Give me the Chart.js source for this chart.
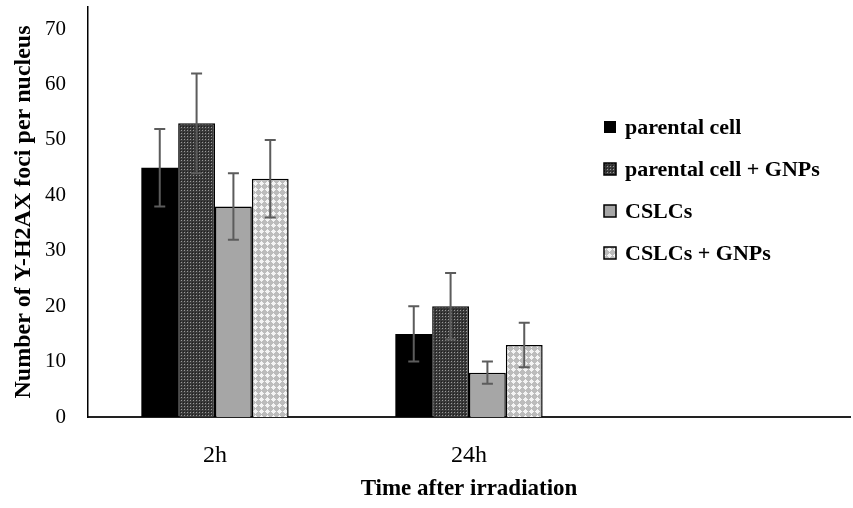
<!DOCTYPE html>
<html>
<head>
<meta charset="utf-8">
<script src="https://cdn.jsdelivr.net/npm/chart.js@4/dist/chart.umd.min.js"></script>
<style>
html,body{margin:0;padding:0;background:#fff;}
canvas{display:block;}
</style>
</head>
<body>
<canvas id="c" width="853" height="508"></canvas>
<script>
// ---- data ----
const categories = ['2h', '24h', ''];
const seriesNames = ['parental cell', 'parental cell + GNPs', 'CSLCs', 'CSLCs + GNPs'];
const parentalCell = [45, 15, null];
const parentalCellGNPs = [53, 20, null];
const cslcs = [38, 8, null];
const cslcsGNPs = [43, 13, null];
const parentalCellErr = [7, 5, null];
const parentalCellGNPsErr = [9, 6, null];
const cslcsErr = [6, 2, null];
const cslcsGNPsErr = [7, 4, null];
const yTicks = [0, 10, 20, 30, 40, 50, 60, 70];
const xTitle = 'Time after irradiation';
const yTitle = 'Number of Y-H2AX foci per nucleus';

// ---- patterns ----
function makePattern(size, draw) {
  const c = document.createElement('canvas');
  c.width = size; c.height = size;
  const g = c.getContext('2d');
  draw(g);
  return g.createPattern(c, 'repeat');
}
const ctx = document.getElementById('c').getContext('2d');
const darkCheck = makePattern(3, g => {
  g.fillStyle = '#3a3a3a'; g.fillRect(0, 0, 3, 3);
  g.fillStyle = '#9a9a9a'; g.fillRect(1, 1, 1, 1);
  g.fillStyle = '#1e1e1e'; g.fillRect(0, 0, 1, 1);
});
const lightDiamond = makePattern(6, g => {
  g.fillStyle = '#bcbcbc'; g.fillRect(0, 0, 6, 6);
  g.fillStyle = '#f4f4f4';
  [[3,1],[2,2],[3,2],[4,2],[1,3],[2,3],[3,3],[4,3],[5,3],[2,4],[3,4],[4,4],[3,5]]
    .forEach(p => g.fillRect(p[0], p[1], 1, 1));
});

const errors = [parentalCellErr, parentalCellGNPsErr, cslcsErr, cslcsGNPsErr];
const SERIF = '"Liberation Serif", "Times New Roman", serif';

const errorBarPlugin = {
  id: 'errorBars',
  afterDatasetsDraw(chart) {
    const c = chart.ctx;
    const ys = chart.scales.y;
    chart.data.datasets.forEach((ds, i) => {
      const meta = chart.getDatasetMeta(i);
      meta.data.forEach((bar, j) => {
        const v = ds.data[j], e = errors[i][j];
        if (v == null || e == null) return;
        const top = ys.getPixelForValue(v + e);
        const bot = ys.getPixelForValue(v - e);
        c.save();
        c.strokeStyle = '#5c5c5c';
        c.lineWidth = 2;
        c.beginPath();
        c.moveTo(bar.x, top); c.lineTo(bar.x, bot);
        c.moveTo(bar.x - 5.5, top); c.lineTo(bar.x + 5.5, top);
        c.moveTo(bar.x - 5.5, bot); c.lineTo(bar.x + 5.5, bot);
        c.stroke();
        c.restore();
      });
    });
  }
};

const legendPlugin = {
  id: 'customLegend',
  afterDraw(chart) {
    const c = chart.ctx;
    const rowsY = [127, 169, 211, 253];
    c.save();
    chart.data.datasets.forEach((ds, i) => {
      const y = rowsY[i];
      c.fillStyle = ds.backgroundColor;
      c.fillRect(604, y - 6, 12, 12);
      if (ds.borderWidth) {
        c.strokeStyle = '#000';
        c.lineWidth = 1.5;
        c.strokeRect(604, y - 6, 12, 12);
      }
      c.fillStyle = '#000';
      c.font = 'bold 22px ' + SERIF;
      c.textBaseline = 'middle';
      c.textAlign = 'left';
      c.fillText(ds.label, 625, y + 1);
    });
    c.restore();
  }
};

new Chart(ctx, {
  type: 'bar',
  data: {
    labels: categories,
    datasets: [
      { label: seriesNames[0], data: parentalCell, backgroundColor: '#000000', borderWidth: 0 },
      { label: seriesNames[1], data: parentalCellGNPs, backgroundColor: darkCheck, borderColor: '#000', borderWidth: 1.5 },
      { label: seriesNames[2], data: cslcs, backgroundColor: '#a6a6a6', borderColor: '#000', borderWidth: 1.5 },
      { label: seriesNames[3], data: cslcsGNPs, backgroundColor: lightDiamond, borderColor: '#000', borderWidth: 1.5 }
    ]
  },
  options: {
    responsive: false,
    animation: false,
    devicePixelRatio: 1,
    layout: { padding: { top: 7, right: 3, left: 0, bottom: 0 } },
    datasets: { bar: { categoryPercentage: 0.58, barPercentage: 1.0 } },
    plugins: {
      legend: { display: false },
      tooltip: { enabled: false }
    },
    scales: {
      x: {
        grid: { display: false, drawTicks: false },
        border: { display: true, color: '#222', width: 2 },
        ticks: { color: '#000', font: { family: SERIF, size: 24 }, padding: 24, maxRotation: 0 },
        title: { display: true, text: xTitle, color: '#000', font: { family: SERIF, size: 23, weight: 'bold' }, padding: { top: 0, bottom: 5 } },
        afterFit(s) { s.height = 91; s.paddingLeft = 0; s.paddingRight = 0; }
      },
      y: {
        min: 0,
        max: 74,
        grid: { display: false, drawTicks: false },
        border: { display: true, color: '#000', width: 1.5 },
        ticks: { color: '#000', font: { family: SERIF, size: 21 }, padding: 22 },
        afterBuildTicks(s) { s.ticks = yTicks.map(v => ({ value: v })); },
        title: { display: true, text: yTitle, color: '#000', font: { family: SERIF, size: 24, weight: 'bold' }, padding: { top: 9, bottom: 0 } },
        afterFit(s) { s.width = 88; s.paddingTop = 0; s.paddingBottom = 0; }
      }
    }
  },
  plugins: [errorBarPlugin, legendPlugin]
});
</script>
</body>
</html>
